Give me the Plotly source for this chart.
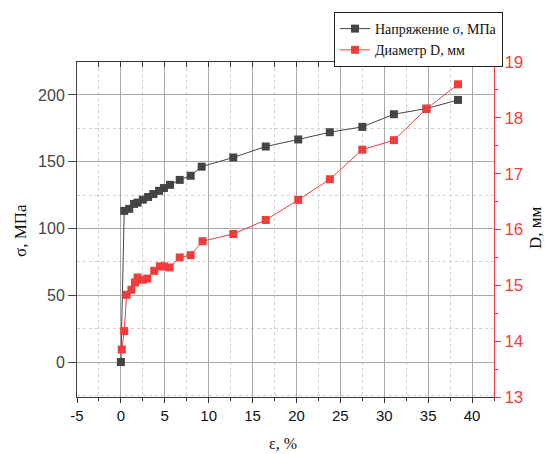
import plotly.graph_objects as go

# Data
eps_sigma = [0, 0.38, 0.95, 1.5, 1.9, 2.5, 3.1, 3.7, 4.35, 4.9, 5.6, 6.7, 7.95, 9.2,
             12.8, 16.5, 20.2, 23.8, 27.5, 31.1, 34.8, 38.4]
sigma = [0, 113.2, 114.7, 118.4, 119.4, 121.6, 123.6, 125.8, 128.2, 130.3, 132.7, 136.4,
         139.5, 146.3, 153.2, 161.4, 166.7, 172.1, 176.1, 185.6, 189.8, 196.3]

eps_d = [0.1, 0.38, 0.65, 1.2, 1.6, 1.9, 2.5, 3.0, 3.8, 4.45, 4.9, 5.55, 6.7, 7.95, 9.3,
         12.8, 16.5, 20.2, 23.8, 27.5, 31.1, 34.8, 38.4]
diam = [13.85, 14.18, 14.83, 14.92, 15.05, 15.14, 15.10, 15.12, 15.26, 15.34, 15.34, 15.32,
        15.50, 15.54, 15.79, 15.92, 16.17, 16.53, 16.90, 17.43, 17.60, 18.16, 18.60]

x_tickvals = [-5, 0, 5, 10, 15, 20, 25, 30, 35, 40]
x_ticktext = ["-5", "0", "5", "10", "15", "20", "25", "30", "35", "40"]

name_sigma = "Напряжение σ, МПа"
name_d = "Диаметр D, мм"
x_title = "ε, %"
y_title = "σ, МПа"
y2_title = "D, мм"

BLACK = "#444444"
RED = "#f23c3c"
SANS = "Liberation Sans, Arial, sans-serif"
SERIF = "Liberation Serif, Times New Roman, serif"

fig = go.Figure()
fig.add_trace(go.Scatter(x=eps_sigma, y=sigma, name=name_sigma, mode="lines+markers",
                         line=dict(color=BLACK, width=1),
                         marker=dict(symbol="square", size=8, color=BLACK)))
fig.add_trace(go.Scatter(x=eps_d, y=diam, name=name_d, mode="lines+markers", yaxis="y2",
                         line=dict(color=RED, width=1),
                         marker=dict(symbol="square", size=8, color=RED)))
# helper trace for the top mirrored axis with inward ticks
fig.add_trace(go.Scatter(x=[None], y=[None], xaxis="x2", showlegend=False, hoverinfo="skip"))

xr = [-5, 42.5]
fig.update_layout(
    width=545, height=454,
    margin=dict(l=77, r=51, t=62, b=57),
    paper_bgcolor="white", plot_bgcolor="white",
    showlegend=True,
    legend=dict(x=(334 - 77) / 417, y=(397 - 12) / 335, xanchor="left", yanchor="top",
                bordercolor="#222222", borderwidth=1, bgcolor="white",
                font=dict(family=SERIF, size=14, color="#111111"),
                tracegroupgap=0, itemwidth=30),
    xaxis=dict(range=xr, tickmode="array", tickvals=x_tickvals, ticktext=x_ticktext,
               showline=True, linecolor="#333333", linewidth=1,
               mirror=True, ticks="outside", ticklen=5, tickcolor="#333333",
               tickfont=dict(family=SANS, size=15, color="#111111"),
               showgrid=True, gridcolor="#a8a8a8", gridwidth=1, zeroline=False,
               minor=dict(dtick=2.5, tick0=0, ticks="outside", ticklen=3, tickcolor="#333333",
                          showgrid=True, gridcolor="#d0d0d0", griddash="dot")),
    xaxis2=dict(range=xr, overlaying="x", side="top", anchor="y", dtick=5, tick0=0,
                ticks="inside", ticklen=5, tickcolor="#333333", showticklabels=False,
                showgrid=False, zeroline=False, showline=False,
                minor=dict(dtick=2.5, tick0=0, ticks="inside", ticklen=5, tickcolor="#333333",
                           showgrid=False)),
    yaxis=dict(range=[-26.2, 224.7], dtick=50, tick0=0, showline=True, linecolor="#444444",
               linewidth=1, ticks="outside", ticklen=8, tickcolor="#444444",
               tickfont=dict(family=SANS, size=16, color="#444444"),
               showgrid=True, gridcolor="#a8a8a8", gridwidth=1, zeroline=False,
               minor=dict(dtick=25, tick0=0, showgrid=True, gridcolor="#d0d0d0", griddash="dot")),
    yaxis2=dict(range=[13, 19], dtick=1, overlaying="y", side="right", anchor="x",
                showline=True, linecolor=RED, linewidth=1, ticks="outside", ticklen=6,
                tickcolor=RED, tickfont=dict(family=SANS, size=17, color=RED),
                showgrid=False, zeroline=False,
                minor=dict(dtick=0.5, ticks="outside", ticklen=3, tickcolor=RED)),
    annotations=[
        dict(text=x_title, xref="paper", yref="paper", x=(283 - 77) / 417, y=(397 - 443) / 335,
             xanchor="center", yanchor="middle", showarrow=False,
             font=dict(family=SERIF, size=16, color="#111111")),
        dict(text=y_title, xref="paper", yref="paper", x=(20 - 77) / 417, y=(397 - 230) / 335,
             xanchor="center", yanchor="middle", showarrow=False, textangle=-90,
             font=dict(family=SERIF, size=17, color="#111111")),
        dict(text=y2_title, xref="paper", yref="paper", x=(535 - 77) / 417, y=(397 - 228) / 335,
             xanchor="center", yanchor="middle", showarrow=False, textangle=-90,
             font=dict(family=SERIF, size=17, color="#111111")),
    ],
)

fig.write_html("out.html")
